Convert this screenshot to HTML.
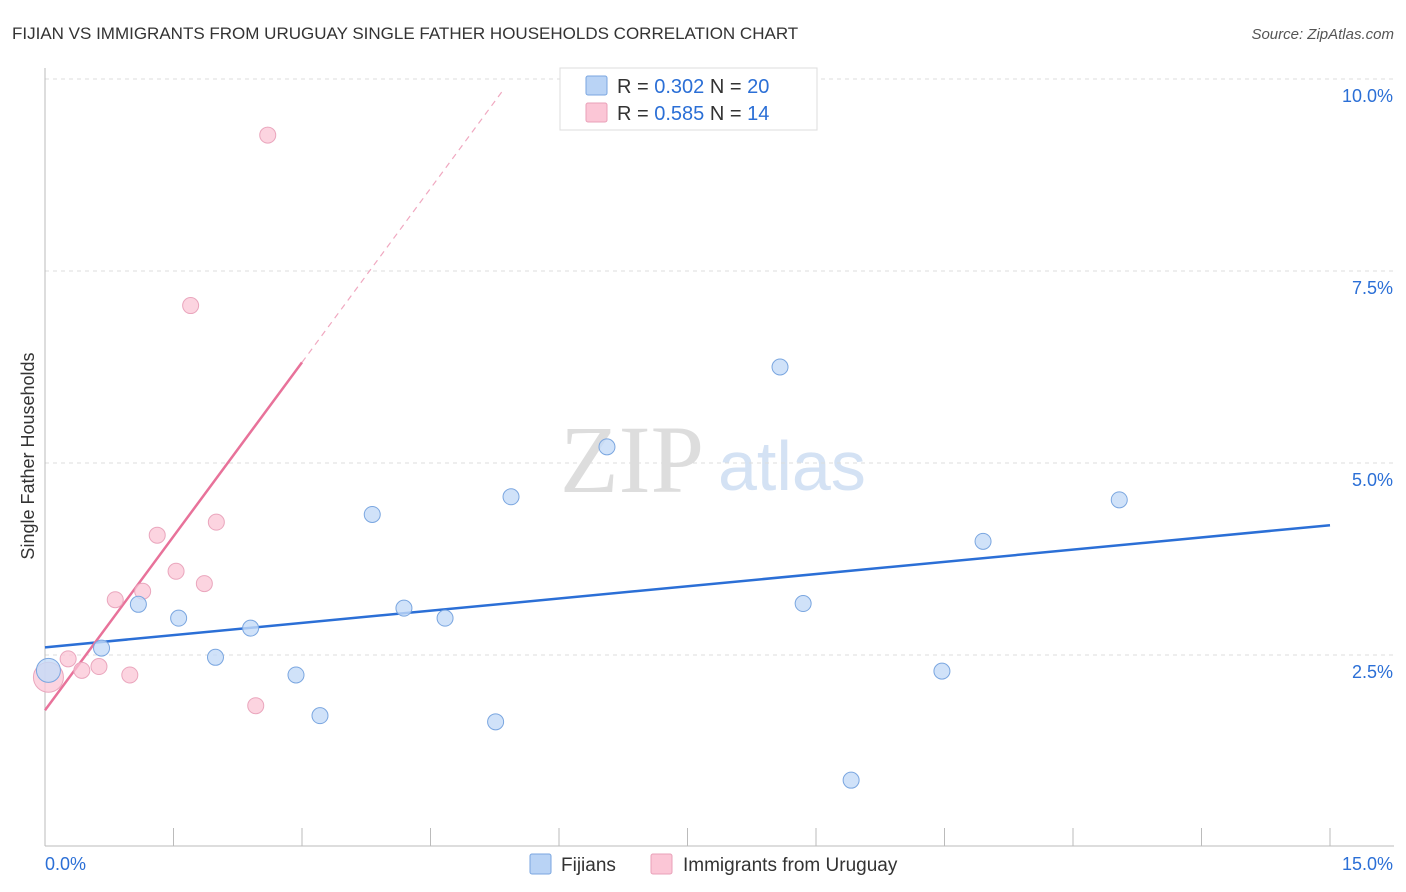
<!DOCTYPE html>
<html><head><meta charset="utf-8"><style>
body{margin:0;background:#fff;font-family:"Liberation Sans",sans-serif;}
svg{display:block}
</style></head><body>
<svg id="chart" width="1406" height="892" xmlns="http://www.w3.org/2000/svg">
<text x="12" y="39" font-size="17" fill="#333">FIJIAN VS IMMIGRANTS FROM URUGUAY SINGLE FATHER HOUSEHOLDS CORRELATION CHART</text>
<text x="1394" y="39" font-size="15" fill="#555" font-style="italic" text-anchor="end">Source: ZipAtlas.com</text>
<text x="560" y="492" font-size="96" fill="#ddd" font-family="Liberation Serif,serif">ZIP</text>
<text x="718" y="490" font-size="70" fill="#d4e2f4">atlas</text>
<text transform="translate(34,456) rotate(-90)" font-size="18" fill="#333" text-anchor="middle">Single Father Households</text>
<g id="grid"></g><g id="axes"></g><g id="lines"></g><g id="pts"></g>
<g>
<rect x="560" y="68" width="257" height="62" fill="#fff" stroke="#ddd"/>
<rect x="586" y="76" width="21" height="19" fill="#b9d3f5" stroke="#7aa6e0" rx="2"/>
<text x="617" y="93" font-size="20" fill="#333">R = <tspan fill="#2b6fd6">0.302</tspan>   N = <tspan fill="#2b6fd6">20</tspan></text>
<rect x="586" y="103" width="21" height="19" fill="#fbc6d6" stroke="#e9a0b8" rx="2"/>
<text x="617" y="120" font-size="20" fill="#333">R = <tspan fill="#2b6fd6">0.585</tspan>   N = <tspan fill="#2b6fd6"> 14</tspan></text>
</g>
<g>
<rect x="530" y="854" width="21" height="20" fill="#b9d3f5" stroke="#7aa6e0" rx="2"/>
<text x="561" y="871" font-size="19" fill="#333">Fijians</text>
<rect x="651" y="854" width="21" height="20" fill="#fbc6d6" stroke="#e9a0b8" rx="2"/>
<text x="683" y="871" font-size="19" fill="#333">Immigrants from Uruguay</text>
</g>
</svg>
<script>
const yTicks=[2.5,5.0,7.5,10.0];
const xTickCount=10;
const fijX=[0.04,0.66,1.09,1.56,1.99,2.4,2.93,3.21,3.82,4.19,4.67,5.26,5.44,6.56,8.58,8.85,9.41,10.47,10.95,12.54];
const fijY=[2.3,2.59,3.16,2.98,2.47,2.85,2.24,1.71,4.33,3.11,2.98,1.63,4.56,5.21,6.25,3.17,0.87,2.29,3.98,4.52];
const uruX=[0.04,0.27,0.43,0.63,0.82,0.99,1.14,1.31,1.53,1.70,1.86,2.0,2.46,2.6];
const uruY=[2.21,2.45,2.3,2.35,3.22,2.24,3.33,4.06,3.59,7.05,3.43,4.23,1.84,9.27];
const fijLine=[2.6,4.19];
const uruLine=[1.78,0.00];
const X=v=>45+v/15*1285, Y=v=>847-v/2.5*192;
const ns="http://www.w3.org/2000/svg";
function mk(t,a,p){const e=document.createElementNS(ns,t);for(const k in a)e.setAttribute(k,a[k]);p.appendChild(e);return e;}
const g=document.getElementById('grid'),ax=document.getElementById('axes'),ln=document.getElementById('lines'),pts=document.getElementById('pts');
yTicks.forEach(t=>{
 const l=mk('line',{x1:45,x2:1394,y1:Y(t),y2:Y(t),stroke:'#ddd','stroke-dasharray':'4,4'},g);
 
 
 const tx=mk('text',{x:1393,y:Y(t)+23,'font-size':18,fill:'#2b6fd6','text-anchor':'end'},g);
 tx.textContent=t.toFixed(1)+'%';
 
 
});
mk('line',{x1:45,x2:45,y1:68,y2:846,stroke:'#bbb'},ax);
mk('line',{x1:45,x2:1394,y1:846,y2:846,stroke:'#bbb'},ax);
for(let i=0;i<=xTickCount;i++){const x=X(i*1.5);const t=mk('line',{x1:x,x2:x,y1:828,y2:846,stroke:'#bbb'},ax);
 
 }
const x0=mk('text',{x:45,y:870,'font-size':18,fill:'#2b6fd6'},ax);x0.textContent='0.0%';


const x1=mk('text',{x:1393,y:870,'font-size':18,fill:'#2b6fd6','text-anchor':'end'},ax);x1.textContent='15.0%';


// regression lines
const fl=mk('line',{x1:X(0),y1:Y(fijLine[0]),x2:X(15),y2:Y(fijLine[1]),stroke:'#2b6fd6','stroke-width':2.5},ln);


const slope=(6.31-1.78)/3.0;
const ul=mk('line',{x1:X(0),y1:Y(uruLine[0]),x2:X(3.0),y2:Y(uruLine[0]+slope*3.0),stroke:'#e8729a','stroke-width':2.5},ln);


const ud=mk('line',{x1:X(3.0),y1:Y(uruLine[0]+slope*3.0),x2:X(5.36),y2:Y(uruLine[0]+slope*5.36),stroke:'#f0a8c0','stroke-width':1.2,'stroke-dasharray':'6,5'},ln);


uruX.forEach((v,i)=>{const c=mk('circle',{cx:X(v),cy:Y(uruY[i]),r:i==0?15:8,fill:'#fbc6d6','fill-opacity':0.75,stroke:'#eaa6bd'},pts);
 
 });
fijX.forEach((v,i)=>{const c=mk('circle',{cx:X(v),cy:Y(fijY[i]),r:i==0?12:8,fill:'#c4dbf7','fill-opacity':0.8,stroke:'#7aa6e0'},pts);
 
 });
</script>
</body></html>
